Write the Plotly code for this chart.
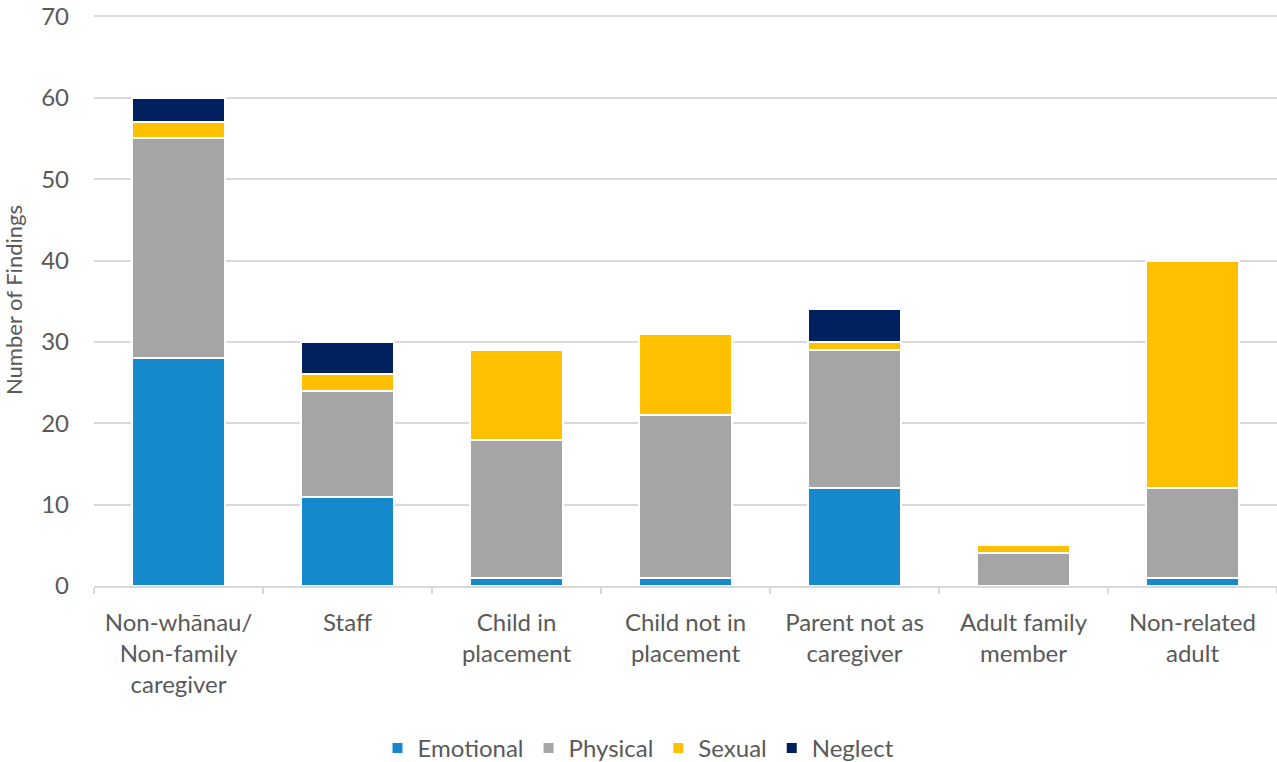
import plotly.graph_objects as go

categories = ["Non-whānau/<br>Non-family<br>caregiver", "Staff", "Child in<br>placement",
              "Child not in<br>placement", "Parent not as<br>caregiver",
              "Adult family<br>member", "Non-related<br>adult"]
emotional = [28, 11, 1, 1, 12, 0, 1]
physical = [27, 13, 17, 20, 17, 4, 11]
sexual = [2, 2, 11, 10, 1, 1, 28]
neglect = [3, 4, 0, 0, 4, 0, 0]

series = [("Emotional", emotional, "#1688CC"),
          ("Physical", physical, "#A5A5A5"),
          ("Sexual", sexual, "#FFC000"),
          ("Neglect", neglect, "#002060")]

FONT = "Lato, Open Sans, sans-serif"
fig = go.Figure()
for name, vals, col in series:
    fig.add_trace(go.Bar(x=categories, y=vals, name=name,
                         marker=dict(color=col, line=dict(color="white", width=2)),
                         width=0.55))

fig.update_layout(
    barmode="stack",
    width=1277, height=762,
    margin=dict(l=94, r=0, t=14, b=176),
    plot_bgcolor="white", paper_bgcolor="white",
    font=dict(family=FONT, color="#595959", size=24),
    legend=dict(orientation="h", xref="container", x=0.5, xanchor="center",
                yref="container", y=0.018, yanchor="middle",
                font=dict(size=24, color="#595959"), traceorder="normal",
                itemwidth=30),
    yaxis=dict(range=[0, 70.3], tickvals=[0, 10, 20, 30, 40, 50, 60, 70],
               gridcolor="#D9D9D9", gridwidth=1.5,
               zeroline=False, showline=False, automargin=False,
               ticklabelstandoff=24,
               tickfont=dict(size=24, color="#595959"),
               title=dict(text="Number of Findings", font=dict(size=22, color="#595959"),
                          standoff=16)),
    xaxis=dict(showline=True, linecolor="#D9D9D9", linewidth=1.5, automargin=False,
               ticks="outside", tickson="boundaries", ticklen=6, tickcolor="#D9D9D9",
               tickwidth=1.5, ticklabelstandoff=14,
               tickfont=dict(size=24, color="#595959")),
)
fig.write_html("out.html", config={"displayModeBar": False},
               post_script="document.body.style.margin='0';document.body.style.overflow='hidden';")
